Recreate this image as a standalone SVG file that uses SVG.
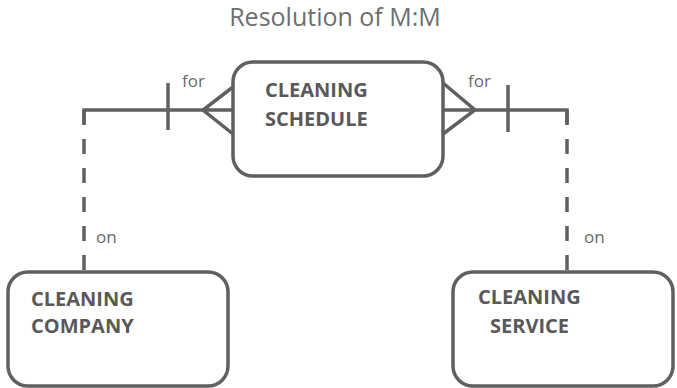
<svg xmlns="http://www.w3.org/2000/svg" width="677" height="388" viewBox="0 0 677 388">
<style>
.box{fill:#fff;stroke:#606060;stroke-width:3.5}
.ln{fill:none;stroke:#606060;stroke-width:3.5}
.dash{fill:none;stroke:#606060;stroke-width:3.5;stroke-dasharray:15 14}
.lbl{font-family:"Open Sans",sans-serif;font-weight:bold;font-size:20px;fill:#595959}
.small{font-family:"Open Sans",sans-serif;font-size:17px;fill:#6a6a6a}
.title{font-family:"Open Sans",sans-serif;font-size:25px;fill:#6e6e6e}
</style>
<rect width="677" height="388" fill="#fff"/>
<text class="title" x="335" y="26" text-anchor="middle">Resolution of M:M</text>
<g id="connectors">
<path class="ln" d="M84,124 V110 H233"/>
<path class="ln" d="M168,83 V130"/>
<path class="ln" d="M233,87 L203,110 L233,134"/>
<path class="dash" d="M84,110 V272"/>
<path class="ln" d="M443,110 H567 V124"/>
<path class="ln" d="M508,85 V132"/>
<path class="ln" d="M443,83 L475,110 L443,134"/>
<path class="dash" d="M567,110 V272"/>
<text class="small" x="182" y="87">for</text>
<text class="small" x="468" y="87">for</text>
<text class="small" x="96" y="243">on</text>
<text class="small" x="584" y="243">on</text>
</g>
<g id="cleaning-schedule">
<rect class="box" x="233" y="62" width="210" height="114" rx="20"/>
<text class="lbl" x="265" y="97">CLEANING</text>
<text class="lbl" x="265" y="126">SCHEDULE</text>
</g>
<g id="cleaning-company">
<rect class="box" x="8" y="272" width="220" height="114" rx="20"/>
<text class="lbl" x="31" y="306">CLEANING</text>
<text class="lbl" x="31" y="333">COMPANY</text>
</g>
<g id="cleaning-service">
<rect class="box" x="453" y="272" width="220" height="114" rx="20"/>
<text class="lbl" x="478" y="304">CLEANING</text>
<text class="lbl" x="490" y="333">SERVICE</text>
</g>
</svg>
